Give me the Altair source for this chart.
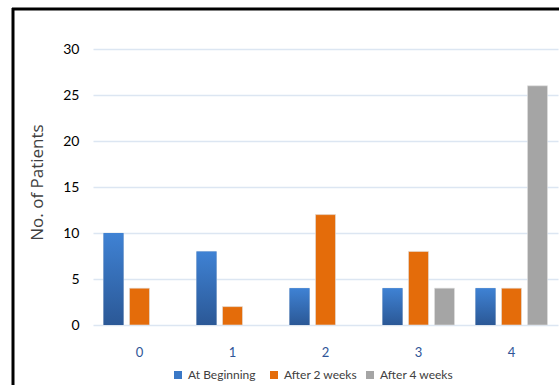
import altair as alt
import pandas as pd

# Pain score categories and patient counts per assessment time
scores = ["0", "1", "2", "3", "4"]
series = ["At Beginning", "After 2 weeks", "After 4 weeks"]
at_beginning = [10, 8, 4, 4, 4]
after_2_weeks = [4, 2, 12, 8, 4]
after_4_weeks = [0, 0, 0, 4, 26]

rows = []
for name, vals in zip(series, [at_beginning, after_2_weeks, after_4_weeks]):
    for s, v in zip(scores, vals):
        rows.append({"score": s, "series": name, "patients": v})
df = pd.DataFrame(rows)

colors = ["#3a78c6", "#e46c0a", "#a5a5a5"]
FONT = "Lato"

x_enc = alt.X(
    "score:N",
    sort=scores,
    title=None,
    scale=alt.Scale(paddingInner=0, paddingOuter=0),
    axis=alt.Axis(
        labelAngle=0,
        labelColor="#2f5597",
        labelFont=FONT,
        labelFontSize=13,
        labelPadding=21,
        ticks=False,
        domain=False,
    ),
)
y_enc = alt.Y(
    "patients:Q",
    scale=alt.Scale(domain=[0, 30], nice=False),
    axis=alt.Axis(
        values=[0, 5, 10, 15, 20, 25, 30],
        title="No. of Patients",
        titleFont="Open Sans",
        titleFontSize=17,
        titleFontWeight="normal",
        titleColor="#404040",
        titleX=-56,
        titleY=133,
        titleAngle=270,
        titleAlign="center",
        titleBaseline="middle",
        labelFont=FONT,
        labelFontSize=14,
        labelColor="#000000",
        labelPadding=14,
        ticks=False,
        domain=False,
        gridColor="#dce6f2",
        gridWidth=1.5,
    ),
)
xoff_enc = alt.XOffset(
    "series:N",
    sort=series,
    scale=alt.Scale(domain=series, paddingInner=0.23, paddingOuter=0.404),
)

bars = alt.Chart(df).transform_filter(
    alt.datum.patients > 0
).mark_bar(stroke="#e0e0e0", strokeWidth=0.6).encode(
    x=x_enc,
    y=y_enc,
    xOffset=xoff_enc,
    color=alt.Color(
        "series:N",
        sort=series,
        scale=alt.Scale(domain=series, range=colors),
        legend=alt.Legend(
            title=None,
            orient="none",
            direction="horizontal",
            columns=3,
            gridAlign="all",
            columnPadding=6,
            legendX=79,
            legendY=320,
            symbolType="square",
            symbolSize=64,
            symbolStrokeWidth=0,
            symbolOffset=0,
            labelFont=FONT,
            labelFontSize=12,
            labelColor="#404040",
            labelOffset=4,
        ),
    ),
)

# Blue series drawn again with a vertical gradient fill
blue_gradient = alt.Gradient(
    gradient="linear",
    stops=[
        alt.GradientStop(color="#3f82d4", offset=0),
        alt.GradientStop(color="#2b5896", offset=1),
    ],
    x1=0, x2=0, y1=0, y2=1,
)
blue_bars = alt.Chart(df).transform_filter(
    alt.datum.series == "At Beginning"
).mark_bar(color=blue_gradient).encode(
    x=x_enc,
    y=y_enc,
    xOffset=xoff_enc,
)

# Frame lines along the left and top edges of the figure
frame = alt.Chart(alt.Data(values=[{}]))
left_edge = frame.mark_rule(color="#000000", strokeWidth=3).encode(
    x=alt.value(-80), y=alt.value(-41), y2=alt.value(340)
)
top_edge = frame.mark_rule(color="#000000", strokeWidth=3).encode(
    x=alt.value(-81), x2=alt.value(470), y=alt.value(-40)
)

chart = alt.layer(bars, blue_bars, left_edge, top_edge).properties(
    width=465,
    height=276,
    autosize=alt.AutoSizeParams(type="none"),
    padding={"left": 93, "top": 49, "right": 1, "bottom": 60},
    background="#ffffff",
).configure_view(stroke=None)

chart.save("out.html", embed_options={"renderer": "svg", "actions": False})
